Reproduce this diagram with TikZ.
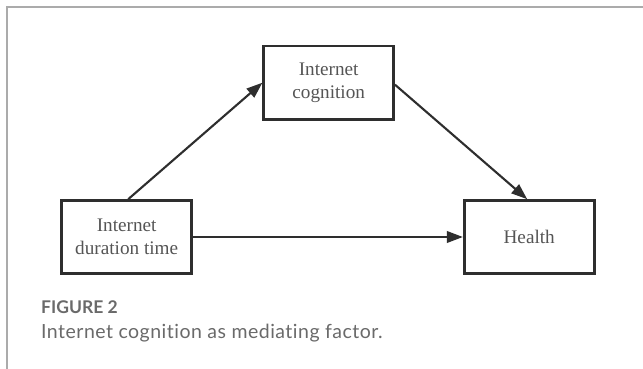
\documentclass[tikz,border=0pt]{standalone}
\usepackage{fontspec}
\setmainfont{Liberation Serif}
\newfontfamily\capfont[Ligatures=NoCommon]{Lato}
\usetikzlibrary{arrows.meta}
\definecolor{boxline}{HTML}{2E2E2E}
\definecolor{boxtext}{HTML}{555555}
\definecolor{captext}{HTML}{6A6A6A}
\definecolor{framegray}{HTML}{ABABAB}
\tikzset{
  varbox/.style={draw=boxline, line width=2.6pt, minimum width=130pt, minimum height=73pt,
    align=center, text=boxtext, font=\fontsize{19.2}{23}\selectfont, inner sep=0pt},
  link/.style={draw=boxline, line width=2.1pt, -{Triangle[length=16pt,width=11.5pt]}},
}
\begin{document}
\begin{tikzpicture}[x=1pt,y=-1pt]
\useasboundingbox (0,0) rectangle (643,369);
\fill[white] (0,0) rectangle (643,369);
\draw[framegray, line width=1.7pt] (7,369) -- (7,7) -- (643,7);
\node[varbox] (cog) at (328.7,82.7) {Internet\\cognition};
\node[varbox] (dur) at (126.7,237) {Internet\\duration time};
\node[varbox] (hea) at (529.2,237) {Health};
\draw[link] ([xshift=1.5pt]dur.north) -- (cog.west);
\draw[link] ([yshift=-2pt]cog.east) -- ([xshift=-2pt]hea.north);
\draw[link] (dur.east) -- (hea.west);
\node[anchor=base west, inner sep=0pt, text=captext, font=\capfont\bfseries\fontsize{17.5}{20}\selectfont] (fig) at (41,313.5) {FIGURE 2};
\node[anchor=base west, inner sep=0pt, text=captext, font=\capfont\fontsize{19.5}{22}\selectfont\addfontfeature{LetterSpace=2.5}] (cap) at (41,338) {Internet cognition as mediating factor.};
\end{tikzpicture}
\end{document}
